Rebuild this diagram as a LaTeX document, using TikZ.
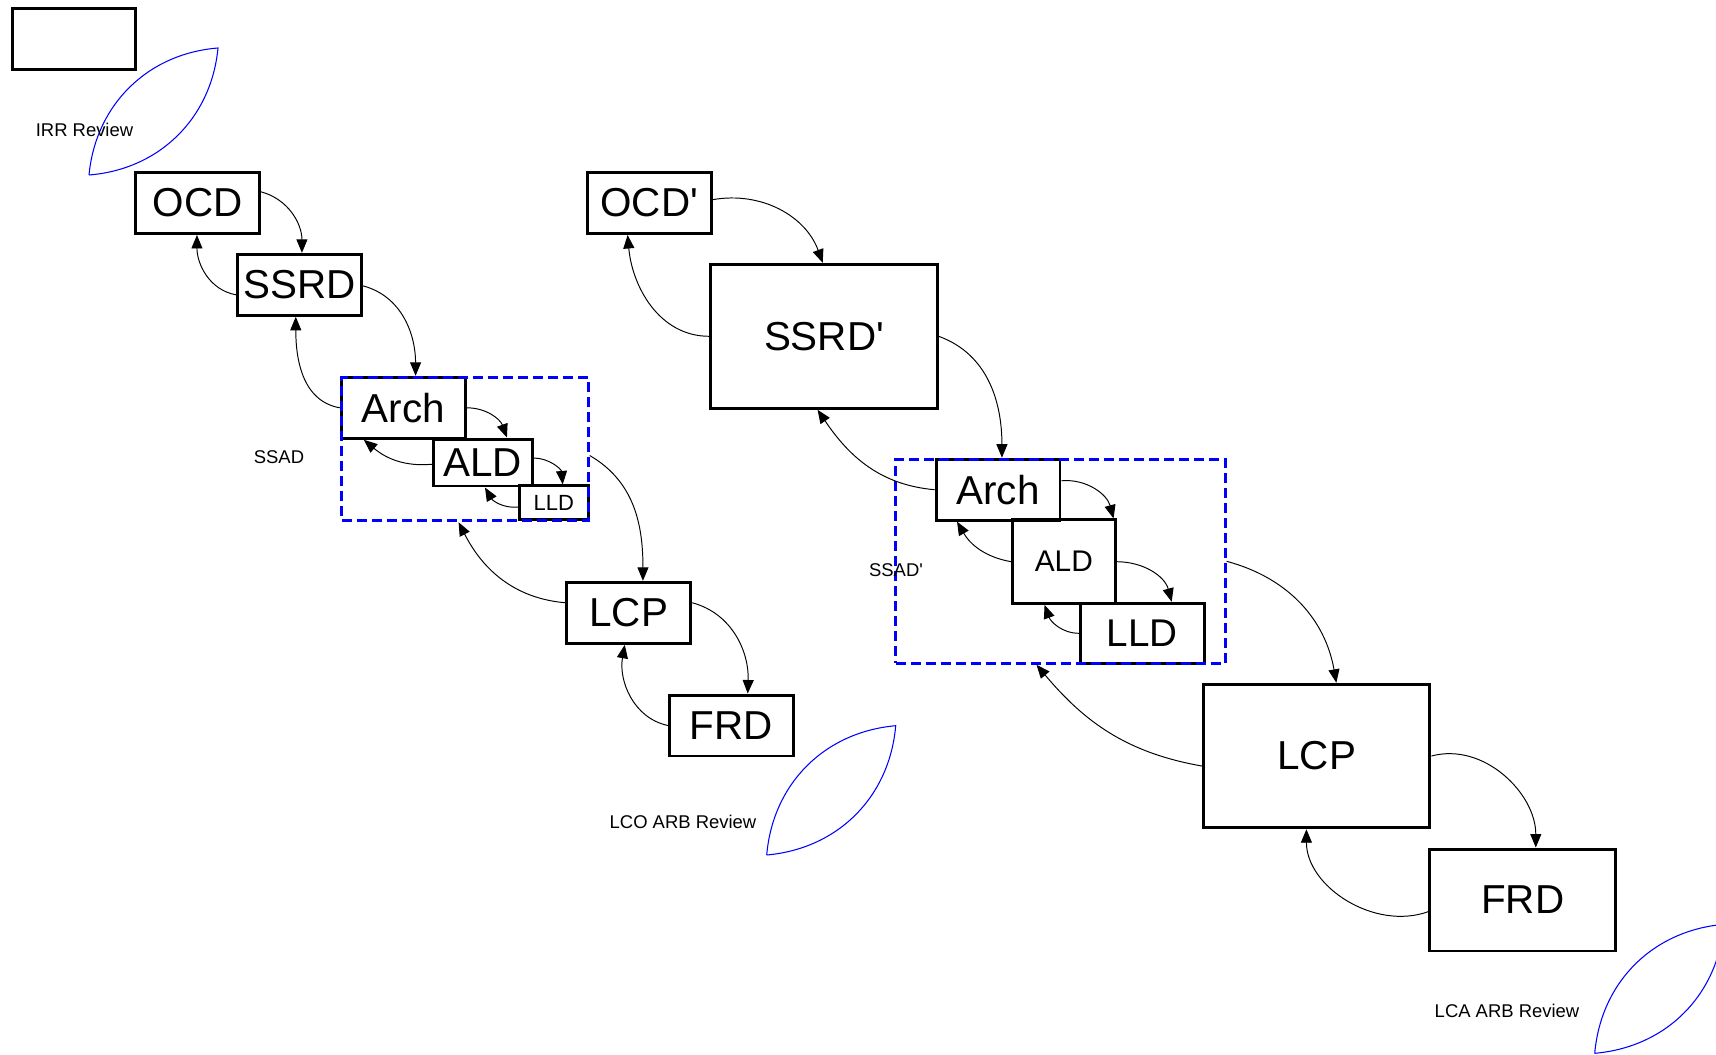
\documentclass[tikz,border=0pt]{standalone}
\usepackage{fontspec}
\setmainfont{Liberation Sans}
\usetikzlibrary{arrows.meta}

\begin{document}
\begin{tikzpicture}[
    x=0.02cm, y=-0.02cm,
    box/.style={rectangle, draw, line width=1.7pt, inner sep=0pt, minimum width=2.48cm, minimum height=1.22cm, font=\fontsize{23}{26}\selectfont},
    group/.style={rectangle, draw=blue, line width=1.7pt, dash pattern=on 0.2cm off 0.1cm, inner sep=0pt},
    leaf/.style={draw=blue, line width=0.6pt},
    lbl/.style={font=\fontsize{10.5}{12}\selectfont},
    arr/.style={-{Triangle[length=0.27cm, width=0.22cm]}, line width=0.55pt}
]
    \useasboundingbox (0,0) rectangle (1716,1054);

    % Empty box
    \node[box] (blank) at (74,39) {};

    % Reviews
    \draw[leaf] (89,175) to[bend left=40] (218,48) to[bend left=40] (89,175);
    \node[lbl] (irr) at (84.5,130) {IRR Review};
    \draw[leaf] (766.7,855) to[bend left=40] (895.7,725.7) to[bend left=40] (766.7,855);
    \node[lbl] (lco) at (683,821.7) {LCO ARB Review};
    \draw[leaf] (1594.7,1053.3) to[bend left=40] (1724,924.3) to[bend left=40] (1594.7,1053.3);
    \node[lbl] (lca) at (1507,1011) {LCA ARB Review};

    % First pass
    \node[box] (ocd) at (197.5,203) {OCD};
    \node[box] (ssrd) at (299.7,284.8) {SSRD};
    \node[box] (arch) at (403.3,407.8) {Arch};
    \node[box, minimum width=1.98cm, minimum height=0.94cm] (ald) at (482.8,462.5) {ALD};
    \node[box, minimum width=1.38cm, minimum height=0.67cm, font=\fontsize{12.5}{14}\selectfont] (lld) at (553.8,502.7) {LLD};
    \node[group, minimum width=4.93cm, minimum height=2.87cm] (ssad) at (465,449) {};
    \node[lbl] (ssadlbl) at (279,457.5) {SSAD};
    \node[box] (lcp) at (628.7,612.8) {LCP};
    \node[box] (frd) at (731.4,725.5) {FRD};

    \draw[arr] (ocd.10) to[out=-15, in=90] (ssrd.86);
    \draw[arr] (ssrd.189) to[out=170, in=-90] (ocd.269);
    \draw[arr] (ssrd.-1) to[out=-15, in=90] (arch.69);
    \draw[arr] (arch.180) to[out=170, in=-90] (ssrd.263);
    \draw[arr] (arch.0) to[out=0, in=110] (ald.46);
    \draw[arr] (ald.182) to[out=185, in=-40] (arch.219);
    \draw[arr] (ald.5) to[out=0, in=95] (lld.64);
    \draw[arr] (lld.187) to[out=185, in=-60] (ald.275);
    \draw[arr] (ssad.-3) to[out=-30, in=90] (lcp.66);
    \draw[arr] (lcp.171) to[out=175, in=-63] (ssad.265);
    \draw[arr] (lcp.9) to[out=-15, in=88] (frd.63);
    \draw[arr] (frd.180) to[out=168, in=-100] (lcp.263);

    % Second pass
    \node[box] (ocdp) at (649.2,203) {OCD\textquotesingle};
    \node[box, minimum width=4.53cm, minimum height=2.88cm] (ssrdp) at (824,336.3) {SSRD\textquotesingle};
    \node[box] (archp) at (998,489.7) {Arch};
    \node[box, minimum width=2.05cm, minimum height=1.67cm, font=\fontsize{17}{20}\selectfont] (aldp) at (1063.8,561.7) {ALD};
    \node[box, minimum width=2.47cm, minimum height=1.2cm, font=\fontsize{22}{25}\selectfont] (lldp) at (1142.3,633.3) {LLD};
    \node[group, minimum width=6.59cm, minimum height=4.08cm] (ssadp) at (1060.4,561.3) {};
    \node[lbl] (ssadplbl) at (896,570) {SSAD\textquotesingle};
    \node[box, minimum width=4.53cm, minimum height=2.87cm] (lcpp) at (1316.7,756) {LCP};
    \node[box, minimum width=3.71cm, minimum height=2.04cm] (frdp) at (1522.7,900) {FRD};

    \draw[arr] (ocdp.3) to[out=10, in=110] (ssrdp.91);
    \draw[arr] (ssrdp.180) to[out=180, in=-85] (ocdp.236);
    \draw[arr] (ssrdp.0) to[out=-20, in=90] (archp.83);
    \draw[arr] (archp.180) to[out=175, in=-56] (ssrdp.265);
    \draw[arr] (archp.8) to[out=5, in=105] (aldp.41);
    \draw[arr] (aldp.180) to[out=170, in=-60] (archp.218);
    \draw[arr] (aldp.0) to[out=0, in=105] (lldp.47);
    \draw[arr] (lldp.180) to[out=180, in=-70] (aldp.246);
    \draw[arr] (ssadp.0) to[out=-15, in=100] (lcpp.75);
    \draw[arr] (lcpp.185) to[out=170, in=-50] (ssadp.257);
    \draw[arr] (lcpp.0) to[out=15, in=90] (frdp.76);
    \draw[arr] (frdp.187) to[out=200, in=-90] (lcpp.262);
\end{tikzpicture}
\end{document}
